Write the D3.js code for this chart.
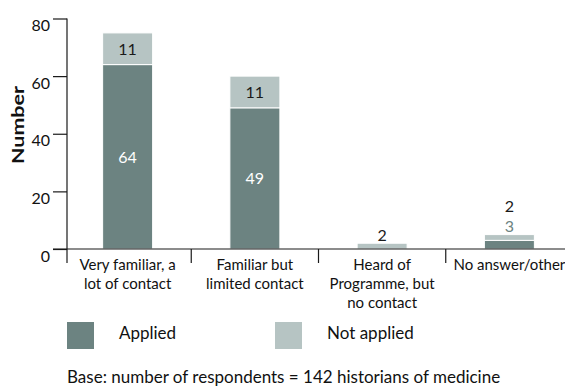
<!DOCTYPE html>
<html>
<head>
<meta charset="utf-8">
<script src="https://cdn.jsdelivr.net/npm/d3@7"></script>
<style>
  html, body { margin: 0; padding: 0; background: #fff; }
  svg { display: block; font-family: Lato, "Open Sans", sans-serif; }
</style>
</head>
<body>
<svg id="chart" width="565" height="392"></svg>
<script>
// Awareness of the programme among historians of medicine, split by whether they applied
const categories = [
  ["Very familiar, a", "lot of contact"],
  ["Familiar but", "limited contact"],
  ["Heard of", "Programme, but", "no contact"],
  ["No answer/other"]
];
const applied = [64, 49, 0, 3];
const notApplied = [11, 11, 2, 2];
const seriesNames = ["Applied", "Not applied"];
const yTicks = [0, 20, 40, 60, 80];
const baseNote = "Base: number of respondents = 142 historians of medicine";

const colors = { "Applied": "#6c8381", "Not applied": "#b6c4c3" };

const svg = d3.select("#chart");
const catKeys = categories.map(c => c.join(" "));

const x = d3.scaleBand().domain(catKeys).range([64, 573]);
const y = d3.scaleLinear().domain([0, 80]).range([249, 18.5]);
const barW = 50;

const rows = catKeys.map((k, i) => ({ key: k, "Applied": applied[i], "Not applied": notApplied[i] }));
const stacked = d3.stack().keys(seriesNames)(rows);

// stacked bars
const g = svg.append("g");
stacked.forEach(layer => {
  g.selectAll(null).data(layer).enter().append("rect")
    .filter(d => d[1] > d[0])
    .attr("x", d => x(d.data.key) + x.bandwidth() / 2 - barW / 2)
    .attr("width", barW)
    .attr("y", d => y(d[1]))
    .attr("height", d => y(d[0]) - y(d[1]))
    .attr("fill", colors[layer.key])
    .attr("stroke", "#fff")
    .attr("stroke-width", 1);
});

// value labels: inside the segment when it is tall enough, otherwise stacked above the bar
const minH = 16;
rows.forEach((r, i) => {
  const cx = x(r.key) + x.bandwidth() / 2;
  let slot = 0;
  const total = r["Applied"] + r["Not applied"];
  let acc = 0;
  seriesNames.forEach(s => {
    const v = r[s];
    if (v <= 0) return;
    const y0 = y(acc), y1 = y(acc + v);
    acc += v;
    let cy, fill;
    if (y0 - y1 >= minH) {
      cy = (y0 + y1) / 2;
      fill = s === "Applied" ? "#ffffff" : "#1a1a1a";
    } else {
      cy = y(total) - 8 - slot * 20;
      slot++;
      fill = s === "Applied" ? colors["Applied"] : "#1a1a1a";
    }
    svg.append("text")
      .attr("x", cx).attr("y", cy)
      .attr("dy", "0.36em")
      .attr("text-anchor", "middle")
      .attr("font-size", 16)
      .attr("fill", fill)
      .text(v);
  });
});

// y axis
const yAxis = d3.axisLeft(y).tickValues(yTicks).tickSize(14).tickPadding(3);
const ya = svg.append("g").attr("transform", "translate(67,0)").call(yAxis);
ya.select(".domain").remove();
ya.selectAll(".tick line").attr("stroke", "#1a1a1a").attr("stroke-width", 1.2);
ya.selectAll(".tick text")
  .attr("font-size", 16).attr("fill", "#111").attr("font-family", "Lato, sans-serif")
  .attr("transform", "translate(0,7)");
svg.append("line").attr("x1", 67).attr("x2", 67).attr("y1", 18.5).attr("y2", 263)
  .attr("stroke", "#1a1a1a").attr("stroke-width", 1.2);

// x baseline and category separators
svg.append("line").attr("x1", 53).attr("x2", 565).attr("y1", 249).attr("y2", 249)
  .attr("stroke", "#1a1a1a").attr("stroke-width", 1.2);
catKeys.slice(1).forEach(k => {
  svg.append("line").attr("x1", x(k)).attr("x2", x(k)).attr("y1", 249).attr("y2", 263)
    .attr("stroke", "#1a1a1a").attr("stroke-width", 1.2);
});

// category labels
categories.forEach((lines, i) => {
  const t = svg.append("text")
    .attr("x", x(catKeys[i]) + x.bandwidth() / 2)
    .attr("y", 270)
    .attr("text-anchor", "middle")
    .attr("font-size", 15)
    .attr("fill", "#111");
  lines.forEach((ln, j) => {
    t.append("tspan").attr("x", x(catKeys[i]) + x.bandwidth() / 2)
      .attr("dy", j === 0 ? 0 : 19).text(ln);
  });
});

// y axis title
svg.append("text")
  .attr("transform", "translate(24,125) rotate(-90)")
  .attr("text-anchor", "middle")
  .attr("font-size", 17)
  .attr("font-weight", "bold")
  .attr("fill", "#111")
  .attr("textLength", 78)
  .attr("lengthAdjust", "spacingAndGlyphs")
  .text("Number");

// legend
const legend = [
  { name: seriesNames[0], bx: 67, tx: 119 },
  { name: seriesNames[1], bx: 275, tx: 327 }
];
legend.forEach(l => {
  svg.append("rect").attr("x", l.bx).attr("y", 322).attr("width", 27).attr("height", 27)
    .attr("fill", colors[l.name]);
  svg.append("text").attr("x", l.tx).attr("y", 339).attr("font-size", 17)
    .attr("fill", "#111").text(l.name);
});

// base note
svg.append("text").attr("x", 67).attr("y", 383).attr("font-size", 17)
  .attr("fill", "#111").text(baseNote);
</script>
</body>
</html>
